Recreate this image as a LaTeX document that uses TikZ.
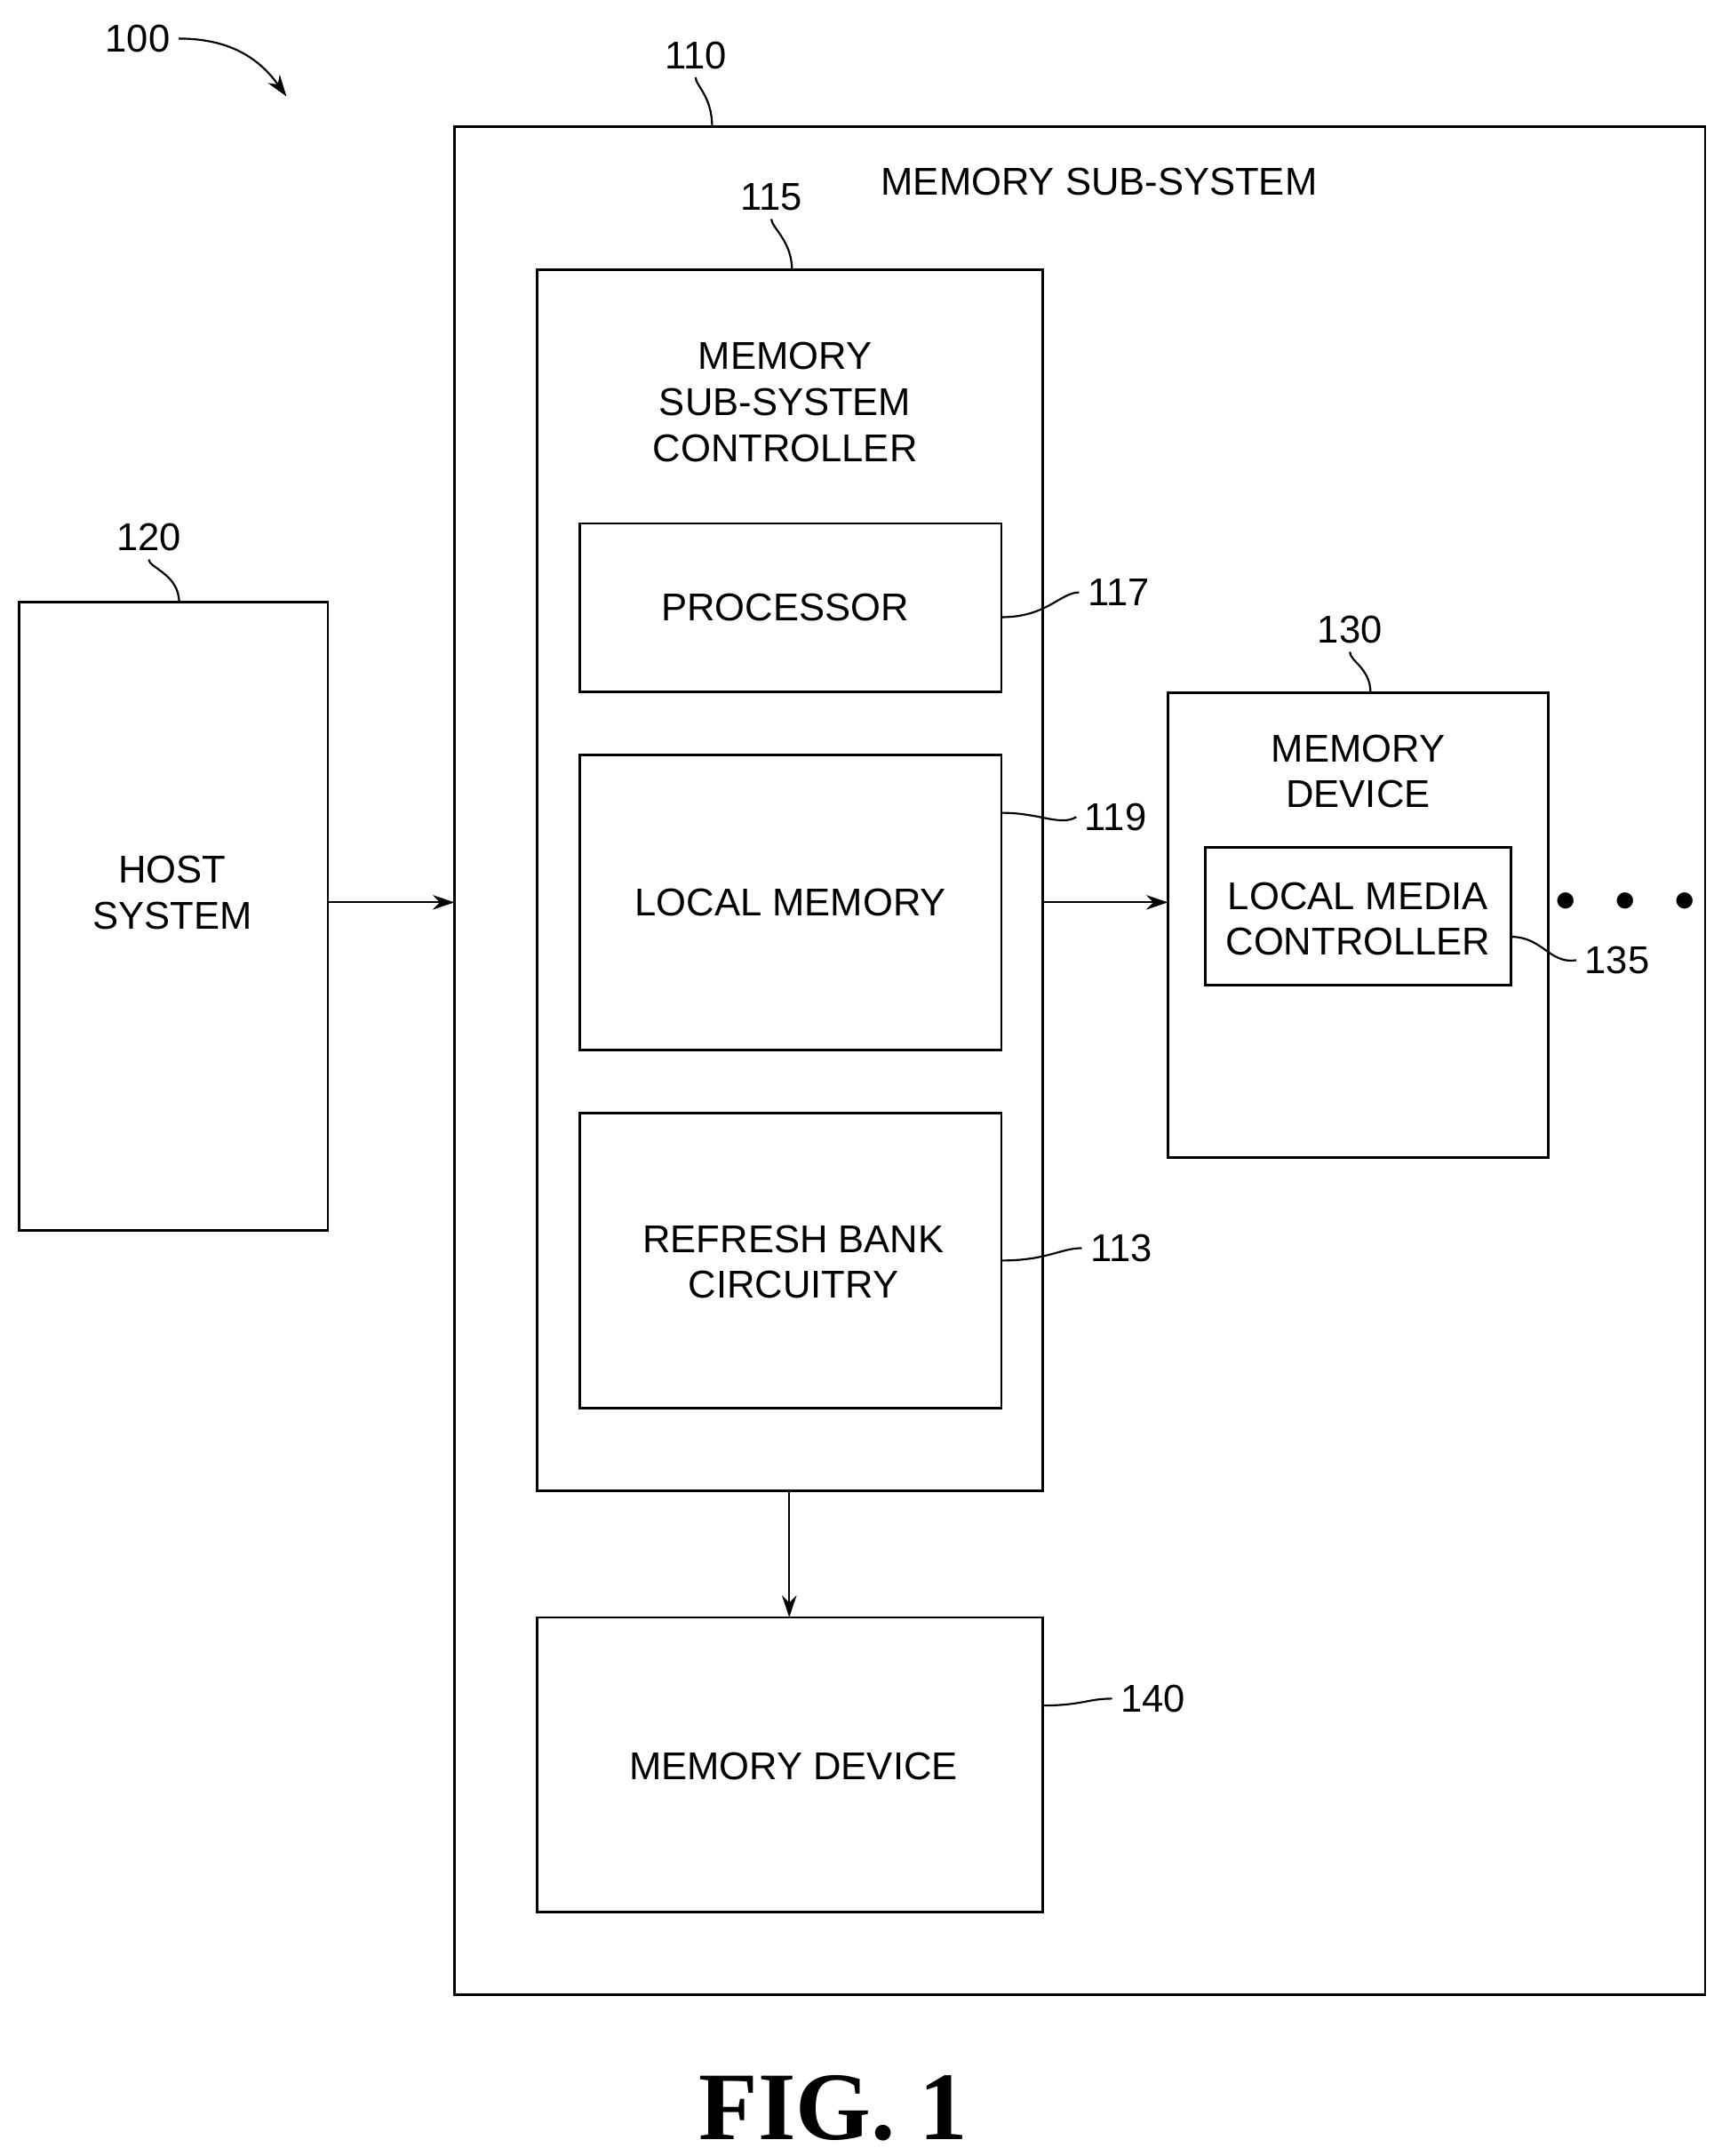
\documentclass[tikz,border=0pt]{standalone}
\usepackage{fontspec}
\setmainfont{Liberation Sans}
\newfontfamily\figfont{Liberation Serif}
\usetikzlibrary{arrows.meta}
\begin{document}
\begin{tikzpicture}[x=0.02cm,y=-0.02cm,
    box/.style={draw, line width=1pt},
    lbl/.style={font=\fontsize{16}{19}\selectfont, align=center},
    num/.style={font=\fontsize{16}{19}\selectfont},
    lead/.style={line width=0.8pt},
    conn/.style={line width=0.8pt, -{Stealth[length=9pt,width=6pt]}}]
    \useasboundingbox (0,0) rectangle (1250,1565);

    %% boxes
    \draw[box] (330,92)  rectangle (1238,1448) coordinate (MSSbr);
    \coordinate (MSS) at (330,92);
    \draw[box] (390,196) rectangle (757,1082);
    \draw[box] (421,380) rectangle (727,502);
    \draw[box] (421,548) rectangle (727,762);
    \draw[box] (421,808) rectangle (727,1022);
    \draw[box] (390,1174) rectangle (757,1388);
    \draw[box] (14,437)  rectangle (238,893);
    \draw[box] (848,503) rectangle (1124,840);
    \draw[box] (875,615) rectangle (1097,715);

    %% texts
    \node[lbl] (tMSS)  at (798,132)  {MEMORY SUB-SYSTEM};
    \node[lbl] (tCTRL) at (570,292)  {MEMORY\\SUB-SYSTEM\\CONTROLLER};
    \node[lbl] (tPROC) at (570,441)  {PROCESSOR};
    \node[lbl] (tLM)   at (574,655)  {LOCAL MEMORY};
    \node[lbl] (tRB)   at (576,916)  {REFRESH BANK\\CIRCUITRY};
    \node[lbl] (tMD)   at (576,1282) {MEMORY DEVICE};
    \node[lbl] (tHOST) at (125,648)  {HOST\\SYSTEM};
    \node[lbl] (tMD2)  at (986,560)  {MEMORY\\DEVICE};
    \node[lbl] (tLMC)  at (986,667)  {LOCAL MEDIA\\CONTROLLER};
    \node[lbl] (dots)  at (1180,655) {$\bullet$\quad$\bullet$\quad$\bullet$};

    %% connectors
    \coordinate (H1) at (238,655); \coordinate (H2) at (330,655);
    \coordinate (C1) at (757,655); \coordinate (C2) at (848,655);
    \coordinate (D1) at (573,1082); \coordinate (D2) at (573,1174);
    \draw[conn] (H1) -- (H2);
    \draw[conn] (C1) -- (C2);
    \draw[conn] (D1) -- (D2);

    %% reference numerals
    \node[num] (n100) at (100,28)  {100};
    \node[num] (n110) at (505,40)  {110};
    \node[num] (n115) at (560,143) {115};
    \node[num] (n120) at (108,390) {120};
    \node[num] (n130) at (980,457) {130};
    \node[num] (n117) at (812,430) {117};
    \node[num] (n119) at (810,593) {119};
    \node[num] (n113) at (814,906) {113};
    \node[num] (n135) at (1174,697){135};
    \node[num] (n140) at (837,1233){140};

    \draw[lead, -{Stealth[length=9pt,width=6pt]}] (n100.east) .. controls (170,28) and (190,45) .. (208,70);
    \draw[lead] (n110.south) .. controls (505,62) and (517,70) .. (517,92);
    \draw[lead] (n115.south) .. controls (560,165) and (575,175) .. (575,196);
    \draw[lead] (n120.south) .. controls (108,412) and (130,417) .. (130,437);
    \draw[lead] (n130.south) .. controls (980,480) and (995,485) .. (995,503);
    \draw[lead] (n117.west) .. controls (770,430) and (760,448) .. (727,448);
    \draw[lead] (n119.west) .. controls (770,600) and (755,590) .. (727,590);
    \draw[lead] (n113.west) .. controls (770,906) and (760,915) .. (727,915);
    \draw[lead] (n135.west) .. controls (1125,700) and (1120,680) .. (1097,680);
    \draw[lead] (n140.west) .. controls (790,1233) and (785,1238) .. (757,1238);

    \node[font=\figfont\bfseries\fontsize{40}{44}\selectfont] (fig) at (605,1530) {FIG. 1};
\end{tikzpicture}
\end{document}
